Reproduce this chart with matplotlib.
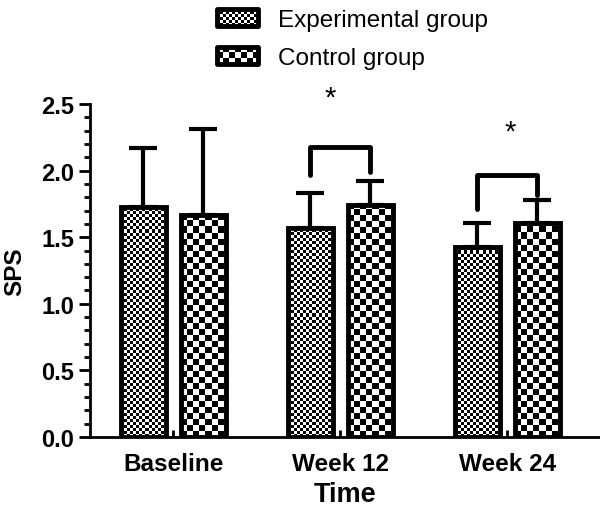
import numpy as np
import matplotlib
matplotlib.use('Agg')
import matplotlib.pyplot as plt
from matplotlib.patches import Rectangle, Patch
from matplotlib.legend_handler import HandlerBase

plt.rcParams['font.family'] = ['Liberation Sans', 'DejaVu Sans']

groups = ['Baseline', 'Week 12', 'Week 24']
exp_mean = [1.73, 1.57, 1.43]
exp_err = [0.44, 0.26, 0.18]
ctrl_mean = [1.67, 1.74, 1.61]
ctrl_err = [0.64, 0.18, 0.17]

# significance brackets (week 12, week 24): left leg bottom, top, right leg bottom
brk_group = [1, 2]
brk_left = [1.97, 1.71]
brk_top = [2.18, 1.97]
brk_right = [1.99, 1.82]
star_x = [0.94, 2.02]
star_y = [2.55, 2.29]


class CheckerHandler(HandlerBase):
    def __init__(self, cell):
        super().__init__()
        self.cell = cell

    def create_artists(self, legend, orig_handle, xdescent, ydescent,
                       width, height, fontsize, trans):
        x0, y0 = -xdescent, -ydescent
        c = self.cell
        arts = [Rectangle((x0, y0), width, height, facecolor='black',
                          edgecolor='none', transform=trans)]
        n = int(np.ceil(width / c))
        m = int(np.ceil(height / c))
        for i in range(m):
            for j in range(n):
                if (i + j) % 2 == 0:
                    w = min(c, width - j * c)
                    h = min(c, height - i * c)
                    arts.append(Rectangle((x0 + j * c, y0 + i * c), w, h,
                                          facecolor='white', edgecolor='none',
                                          transform=trans))
        arts.append(Rectangle((x0, y0), width, height, facecolor='none',
                              edgecolor='black', linewidth=3.5,
                              joinstyle='round', transform=trans))
        return arts


def checker_fill(ax, bars, cell_px):
    cw = cell_px / 167.0
    ch = cell_px / 133.2
    for b in bars:
        x, y = b.get_x(), b.get_y()
        w, h = b.get_width(), b.get_height()
        n = int(np.ceil(w / cw))
        m = int(np.ceil(h / ch))
        board = np.indices((m, n)).sum(axis=0) % 2
        im = ax.imshow(board, cmap='gray', origin='lower', aspect='auto',
                       interpolation='nearest',
                       extent=[x, x + n * cw, y, y + m * ch], zorder=2)
        im.set_clip_path(b)


fig = plt.figure(figsize=(6, 5.1), dpi=100)
ax = fig.add_axes([0.15, 1 - 438 / 510, 0.85, 333 / 510])

x = np.arange(len(groups))
off = 0.18
bw = 0.27

ax.errorbar(x - off, exp_mean, yerr=[np.zeros(3), exp_err], fmt='none',
            ecolor='black', elinewidth=3, capsize=10, capthick=3, zorder=1)
ax.errorbar(x + off, ctrl_mean, yerr=[np.zeros(3), ctrl_err], fmt='none',
            ecolor='black', elinewidth=3, capsize=10, capthick=3, zorder=1)

b1 = ax.bar(x - off, exp_mean, bw, facecolor='none', edgecolor='black',
            linewidth=3.5, zorder=3)
b2 = ax.bar(x + off, ctrl_mean, bw, facecolor='none', edgecolor='black',
            linewidth=3.5, zorder=3)
checker_fill(ax, b1, 3)
checker_fill(ax, b2, 6)

for g, yl, yt, yr in zip(brk_group, brk_left, brk_top, brk_right):
    ax.plot([g - off, g - off, g + off, g + off], [yl, yt, yt, yr],
            color='black', linewidth=3.5, solid_capstyle='round',
            solid_joinstyle='round', clip_on=False, zorder=4)
for sx, sy in zip(star_x, star_y):
    ax.text(sx, sy, '*', ha='center', va='center', fontsize=21)

ax.set_xlim(-0.5, 2.557)
ax.set_ylim(0, 2.5)
ax.set_yticks(np.arange(0, 2.51, 0.5))
ax.set_yticks(np.arange(0, 2.51, 0.1), minor=True)
ax.set_yticklabels([f'{v:.1f}' for v in np.arange(0, 2.51, 0.5)],
                   fontweight='bold', fontsize=17)
ax.set_xticks(x)
ax.set_xticklabels(groups, fontweight='bold', fontsize=17.5)
ax.tick_params(axis='y', which='major', direction='out', length=8, width=2)
ax.tick_params(axis='y', which='minor', direction='out', length=4, width=2)
ax.tick_params(axis='x', direction='in', length=5, width=2, pad=11)

for s in ['top', 'right']:
    ax.spines[s].set_visible(False)
for s in ['left', 'bottom']:
    ax.spines[s].set_linewidth(2)

ax.set_xlabel('Time', fontweight='bold', fontsize=19.5, labelpad=4)
ax.set_ylabel('SPS', fontweight='bold', fontsize=17.5)
ax.yaxis.set_label_coords(-0.124, 0.5)

h1 = Patch(label='Experimental group')
h2 = Patch(label='Control group')
fig.legend([h1, h2], ['Experimental group', 'Control group'],
           handler_map={h1: CheckerHandler(2.2), h2: CheckerHandler(4.3)},
           loc='upper left', bbox_to_anchor=(212 / 600, 1 - 5 / 510),
           frameon=False, fontsize=17.5, handlelength=1.7, handleheight=0.7,
           handletextpad=0.8, labelspacing=0.68, borderaxespad=0,
           borderpad=0.2)

plt.savefig('out.png', dpi=100)
